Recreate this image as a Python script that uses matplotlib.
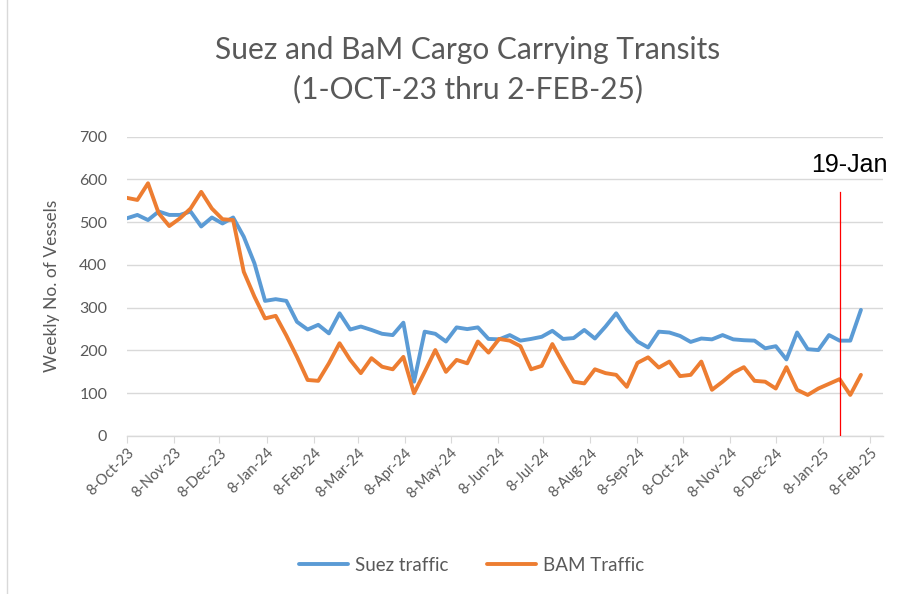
# -*- coding: utf-8 -*-

"""
Suez and BaM cargo carrying transits, weekly, Oct-23 .. Feb-25.
"""

import matplotlib
matplotlib.use("Agg")
import matplotlib.dates as mdates
import matplotlib.pyplot as plt
import matplotlib.ticker as mticker
import pandas as pd
from matplotlib.lines import Line2D


# -----------------------------------------------------------------------------
# Data (weekly, Sundays from 8-Oct-23 to 2-Feb-25)
firstWeek = "2023-10-08"
lastWeek = "2025-02-02"

suezTraffic = [509, 517, 505, 525, 517, 517, 525, 490, 511, 497,
               511, 466, 404, 316, 320, 316, 267, 249, 260, 240,
               287, 249, 256, 248, 239, 236, 265, 127, 244, 239,
               221, 254, 250, 254, 227, 226, 236, 223, 227, 232,
               246, 227, 229, 248, 228, 256, 287, 249, 221, 207,
               244, 242, 234, 220, 228, 226, 236, 226, 224, 223,
               205, 210, 179, 242, 203, 201, 236, 223, 223, 295]

bamTraffic = [557, 552, 591, 521, 491, 509, 532, 571, 532, 507,
              505, 384, 326, 275, 281, 235, 185, 131, 129, 170,
              217, 178, 147, 182, 162, 156, 185, 100, 150, 201,
              150, 178, 170, 221, 195, 227, 223, 210, 156, 164,
              215, 170, 127, 123, 156, 147, 143, 115, 171, 184,
              160, 174, 140, 143, 174, 108, 127, 148, 161, 129,
              127, 111, 161, 108, 96, 111, 122, 133, 96, 143]

seriesNames = ["Suez traffic", "BAM Traffic"]
markerDate = "2025-01-19"
markerLabel = "19-Jan"
markerTop = 570

titleText = "Suez and BaM Cargo Carrying Transits\n(1-OCT-23 thru 2-FEB-25)"
yLabel = "Weekly No. of Vessels"
yTicks = [0, 100, 200, 300, 400, 500, 600, 700]

BLUE = "#5B9BD5"
ORANGE = "#ED7D31"
GREY = "#595959"
GRID = "#D9D9D9"


# -----------------------------------------------------------------------------
def dayLabel(x, pos=None):
    """
    Excel like date label: 8-Oct-23
    """
    d = mdates.num2date(x)
    return "%d-%s" % (d.day, d.strftime("%b-%y"))


# -----------------------------------------------------------------------------
def plotTransits():
    """
    Draws the chart and saves it to out.png
    """
    weeks = pd.date_range(firstWeek, lastWeek, freq="7D")

    fig = plt.figure(figsize=(9.21, 5.94), dpi=100)
    ax = fig.add_axes([0.1376, 0.266, 0.8211, 0.5039])

    # left edge of the chart frame
    fig.lines.append(Line2D([0.008, 0.008], [0.0, 1.0],
                            transform=fig.transFigure, color="#D9D9D9",
                            lw=1))

    ax.plot(weeks, suezTraffic, color=BLUE, lw=2.8,
            solid_joinstyle="round", solid_capstyle="round",
            label=seriesNames[0], zorder=3)
    ax.plot(weeks, bamTraffic, color=ORANGE, lw=2.8,
            solid_joinstyle="round", solid_capstyle="round",
            label=seriesNames[1], zorder=3)

    # 19-Jan marker
    mDate = pd.Timestamp(markerDate)
    ax.plot([mDate, mDate], [0, markerTop], color="red", lw=0.9, zorder=4)
    ax.text(mDate + pd.Timedelta(days=6.5), 634, markerLabel, ha="center",
            va="center", fontsize=18, family="Liberation Sans",
            color="black")

    # axes
    ax.set_ylim(0, 700)
    ax.set_yticks(yTicks)
    ax.set_xlim(pd.Timestamp(firstWeek), pd.Timestamp("2025-02-16 12:00"))
    ax.xaxis.set_major_locator(mdates.MonthLocator(bymonthday=8))
    ax.xaxis.set_major_formatter(mticker.FuncFormatter(dayLabel))

    ax.grid(axis="y", color=GRID, lw=1)
    ax.set_axisbelow(True)
    for s in ["top", "right", "left"]:
        ax.spines[s].set_visible(False)
    ax.spines["bottom"].set_color(GRID)
    ax.spines["bottom"].set_linewidth(1)

    ax.tick_params(axis="y", length=0, pad=14, labelsize=11.5,
                   labelcolor=GREY)
    ax.tick_params(axis="x", length=5, color=GRID, pad=2, labelsize=10.5,
                   labelcolor=GREY)
    for lbl in ax.get_xticklabels():
        lbl.set_rotation(45)
        lbl.set_ha("right")
        lbl.set_va("top")
        lbl.set_rotation_mode("anchor")
        lbl.set_family("Lato")
    for lbl in ax.get_yticklabels():
        lbl.set_family("Lato")

    ax.set_ylabel(yLabel, fontsize=12.5, color=GREY, family="Lato",
                  labelpad=14)

    fig.text(0.508, 0.883, titleText, ha="center", va="center",
             fontsize=21.5, color=GREY, family="Lato", linespacing=1.45)

    leg = ax.legend(loc="center", bbox_to_anchor=(0.512, 0.048),
                    bbox_transform=fig.transFigure, ncol=2, frameon=False,
                    handlelength=2.6, handletextpad=0.35, columnspacing=2.1,
                    prop={"family": "Lato", "size": 13.5})
    for t in leg.get_texts():
        t.set_color(GREY)

    fig.savefig("out.png", dpi=100)


# -----------------------------------------------------------------------------
def main():
    """
    Main function.
    """
    plotTransits()


# -----------------------------------------------------------------------------
if __name__ == "__main__":
    main()
